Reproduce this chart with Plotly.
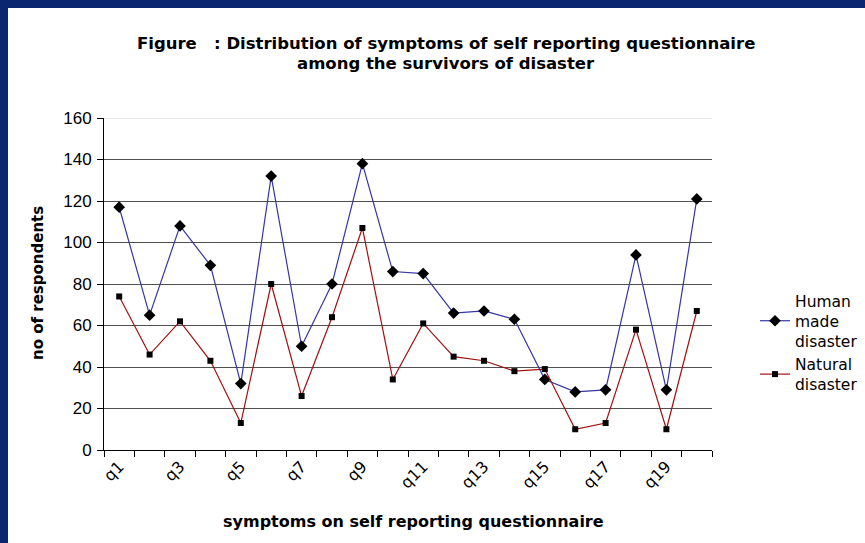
import plotly.graph_objects as go

categories = [f"q{i}" for i in range(1, 21)]
human_made = [117, 65, 108, 89, 32, 132, 50, 80, 138, 86, 85, 66, 67, 63, 34, 28, 29, 94, 29, 121]
natural = [74, 46, 62, 43, 13, 80, 26, 64, 107, 34, 61, 45, 43, 38, 39, 10, 13, 58, 10, 67]
y_ticks = list(range(0, 161, 20))

xpos = list(range(1, len(categories) + 1))

W, H = 865, 543
L, R, T, B = 104, 712, 118, 450

def px_x(p):
    return (p - L) / (R - L)

def px_y(p):
    return (B - p) / (B - T)

font = "Liberation Sans, Arial, sans-serif"
wide = "DejaVu Sans, Liberation Sans, sans-serif"

fig = go.Figure()
fig.add_trace(go.Scatter(
    x=xpos, y=human_made, name="Human<br>made<br>disaster", mode="lines+markers",
    line=dict(color="#3535a5", width=1.2),
    marker=dict(symbol="diamond", size=9, color="black"),
))
fig.add_trace(go.Scatter(
    x=xpos, y=natural, name="Natural<br>disaster", mode="lines+markers",
    line=dict(color="#a01010", width=1.2),
    marker=dict(symbol="square", size=6, color="black"),
))

fig.update_layout(
    width=W, height=H,
    margin=dict(l=L, r=W - R, t=T, b=H - B, pad=0, autoexpand=False),
    paper_bgcolor="#0a2670",
    plot_bgcolor="rgba(0,0,0,0)",
    font=dict(family=font, color="black"),
    showlegend=True,
    legend=dict(x=px_x(755), y=px_y(284), xanchor="left", yanchor="top",
                font=dict(size=15.5, family=wide), bgcolor="rgba(0,0,0,0)",
                tracegroupgap=0, itemwidth=30),
    shapes=[
        dict(type="rect", xref="paper", yref="paper", layer="below",
             x0=px_x(8), x1=px_x(W + 5), y0=px_y(H + 5), y1=px_y(8),
             fillcolor="white", line=dict(width=0)),
        dict(type="line", xref="paper", yref="y", x0=0, x1=1, y0=160, y1=160,
             line=dict(color="#d0d0d0", width=1.2), layer="above"),
    ],
    annotations=[
        dict(text="<b>Figure   : Distribution of symptoms of self reporting questionnaire</b>",
             xref="paper", yref="paper", x=px_x(446), y=px_y(43), showarrow=False,
             font=dict(size=16.5, family=wide), xanchor="center", yanchor="middle"),
        dict(text="<b>among the survivors of disaster</b>",
             xref="paper", yref="paper", x=px_x(446), y=px_y(64), showarrow=False,
             font=dict(size=16.5, family=wide), xanchor="center", yanchor="middle"),
        dict(text="<b>symptoms on self reporting questionnaire</b>",
             xref="paper", yref="paper", x=px_x(414), y=px_y(521), showarrow=False,
             font=dict(size=16, family=wide), xanchor="center", yanchor="middle"),
        dict(text="<b>no of respondents</b>", textangle=-90,
             xref="paper", yref="paper", x=px_x(38), y=px_y(283), showarrow=False,
             font=dict(size=15, family=wide), xanchor="center", yanchor="middle"),
    ],
)

fig.update_xaxes(
    range=[0.5, len(categories) + 0.5],
    tickvals=xpos[::2], ticktext=categories[::2],
    tickangle=-45, ticks="", showgrid=False, zeroline=False,
    showline=True, linecolor="black", linewidth=1,
    tickfont=dict(size=16, family=wide),
    minor=dict(tickvals=[i + 0.5 for i in range(len(categories) + 1)],
               ticks="outside", ticklen=6, tickcolor="black", showgrid=False),
)
fig.update_yaxes(
    range=[0, 160], tickvals=y_ticks,
    ticks="outside", ticklen=6, tickcolor="black",
    showline=True, linecolor="black", linewidth=1,
    showgrid=True, gridcolor="#505050", gridwidth=1, zeroline=False,
    tickfont=dict(size=17, family=font), ticklabelstandoff=2,
)

fig.write_html("out.html", config={"displayModeBar": False},
               post_script="document.body.style.margin='0';")
